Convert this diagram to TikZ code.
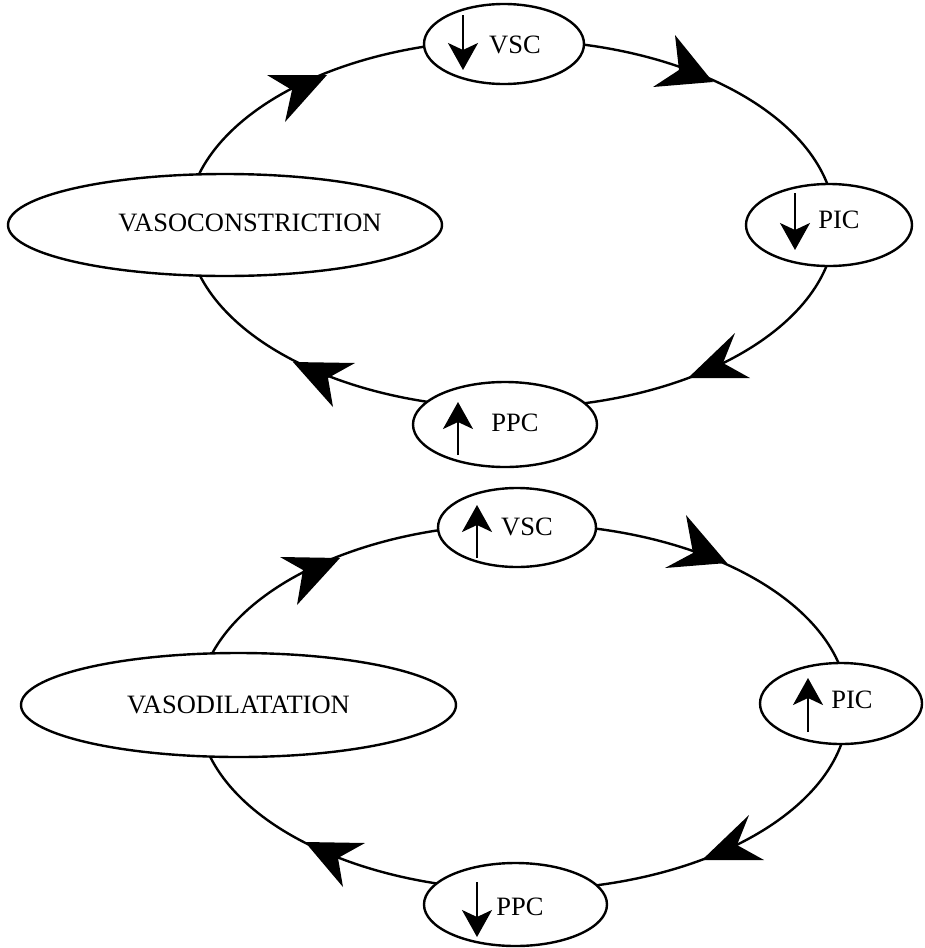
\documentclass[tikz,border=0pt]{standalone}
\usepackage{fontspec}
\setmainfont{Liberation Serif}
\usetikzlibrary{shapes.geometric,arrows.meta}
\tikzset{
  ring/.style={line width=2.4pt},
  oval/.style={ellipse, draw, line width=2.4pt, fill=white, inner sep=0pt},
  lbl/.style={inner sep=0pt, font=\fontsize{26.5}{30}\selectfont},
  updown/.style={line width=2.2pt, -{Stealth[length=27pt,width=30pt,inset=7pt]}},
  bighead/.style={fill=black},
}
\begin{document}
\begin{tikzpicture}[x=1pt,y=-1pt]
\useasboundingbox (0,0) rectangle (924,948);
\coordinate (c1) at (511,224);
\coordinate (c2) at (523,707);
\draw[ring] (c1) ellipse [x radius=324pt, y radius=184pt];
\draw[ring] (c2) ellipse [x radius=325pt, y radius=183pt];

% top cycle
\node[oval, minimum width=160pt, minimum height=80pt] (vsc1) at (504,44) {};
\node[oval, minimum width=166pt, minimum height=82pt] (pic1) at (829,225) {};
\node[oval, minimum width=184pt, minimum height=85pt] (ppc1) at (505,424.5) {};
\node[oval, minimum width=434pt, minimum height=102pt] (vaso1) at (225,225) {};
\node[lbl] (vsc1t) at (515,45) {VSC};
\node[lbl] (pic1t) at (839,220) {PIC};
\node[lbl] (ppc1t) at (515,423) {PPC};
\node[lbl] (vaso1t) at (250,223) {VASOCONSTRICTION};
\draw[updown] (463,15) -- (463,70);
\draw[updown] (795,193) -- (795,250);
\draw[updown] (458,455) -- (458,402);
\fill[bighead] (327,75) -- (267,75) -- (292,90) -- (285,122) -- cycle;
\fill[bighead] (713,82) -- (675,35) -- (679,70) -- (653,87) -- cycle;
\fill[bighead] (688,378) -- (735,333) -- (723,363) -- (750,378) -- cycle;
\fill[bighead] (293,362) -- (355,363) -- (328,378) -- (333,407) -- cycle;

% bottom cycle
\node[oval, minimum width=158pt, minimum height=79pt] (vsc2) at (517,527.5) {};
\node[oval, minimum width=162pt, minimum height=81pt] (pic2) at (841,703.5) {};
\node[oval, minimum width=183pt, minimum height=83pt] (ppc2) at (515.5,904.5) {};
\node[oval, minimum width=435pt, minimum height=104pt] (vaso2) at (238.5,705) {};
\node[lbl] (vsc2t) at (527,527) {VSC};
\node[lbl] (pic2t) at (852,700) {PIC};
\node[lbl] (ppc2t) at (520,907) {PPC};
\node[lbl] (vaso2t) at (238.5,705) {VASODILATATION};
\draw[updown] (477,558) -- (477,505);
\draw[updown] (808,732) -- (808,678);
\draw[updown] (477,882) -- (477,937);
\fill[bighead] (340,558) -- (280,557) -- (303,570) -- (297,605) -- cycle;
\fill[bighead] (727,563) -- (686,515) -- (693,553) -- (665,568) -- cycle;
\fill[bighead] (702,860) -- (749,815) -- (737,845) -- (764,860) -- cycle;
\fill[bighead] (305,842) -- (365,843) -- (338,858) -- (343,887) -- cycle;
\end{tikzpicture}
\end{document}
